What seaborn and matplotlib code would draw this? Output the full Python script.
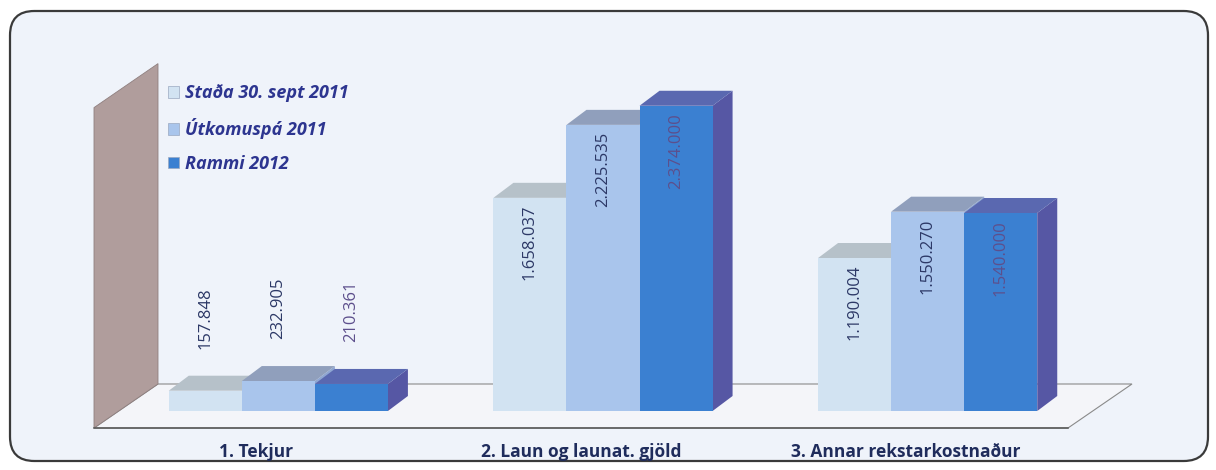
import matplotlib
matplotlib.use("Agg")
import numpy as np
import pandas as pd
import seaborn as sns
import matplotlib.pyplot as plt
from matplotlib.transforms import ScaledTranslation, IdentityTransform
from matplotlib.patches import Polygon, FancyBboxPatch, Rectangle

# ---------------- data ----------------
categories = ["1. Tekjur", "2. Laun og launat. gjöld", "3. Annar rekstarkostnaður"]
series_names = ["Staða 30. sept 2011", "Útkomuspá 2011", "Rammi 2012"]
stada = [157848, 1658037, 1190004]
utkomuspa = [232905, 2225535, 1550270]
rammi = [210361, 2374000, 1540000]

front_colors = ["#d2e3f2", "#a9c5ec", "#3b80d1"]
top_colors = ["#b6c1c9", "#909fbc", "#5a68b0"]
side_colors = ["#b9cadb", "#8fa6d2", "#5657a4"]

df = pd.DataFrame({
    "cat": categories * 3,
    "series": sum([[s] * 3 for s in series_names], []),
    "value": stada + utkomuspa + rammi,
})

sns.set_style("white")
plt.rcParams["font.family"] = ["Open Sans", "DejaVu Sans"]

W, H, DPI = 1216, 470, 100
fig = plt.figure(figsize=(W / DPI, H / DPI), dpi=DPI)
fig.patch.set_facecolor("white")

# outer rounded frame
frame = FancyBboxPatch((10 / W, 9 / H), 1198 / W, 450 / H,
                       boxstyle="round,pad=0,rounding_size=0.02",
                       transform=fig.transFigure, facecolor="#eff3fa",
                       edgecolor="#3a3a3a", linewidth=1.6, zorder=-5,
                       mutation_aspect=W / H)
fig.patches.append(frame)

ax = fig.add_axes([94 / W, (H - 428) / H, 974 / W, 360 / H])
ax.set_facecolor("none")
ax.set_zorder(2)

sns.barplot(data=df, x="cat", y="value", hue="series", order=categories,
            hue_order=series_names, palette=front_colors, width=0.675,
            saturation=1, linewidth=0, ax=ax, legend=False, zorder=3)

ax.set_xlim(-0.5, 2.5)
ax.set_ylim(0, 2.8e6)
for s in ["top", "right", "left"]:
    ax.spines[s].set_visible(False)
ax.spines["bottom"].set_color("#555555")
ax.spines["bottom"].set_linewidth(1.1)
ax.set_yticks([])
ax.set_xlabel("")
ax.set_ylabel("")
ax.set_xticks([0, 1, 2])
ax.set_xticklabels(categories, fontsize=12.5, fontweight="bold", color="#1f2c5c")
ax.tick_params(axis="x", which="major", length=0, pad=11)
ax.set_xticks([-0.5, 0.5, 1.5, 2.5], minor=True)
ax.tick_params(axis="x", which="minor", length=8, color="#555555", direction="out")

# floor and left wall (decoration)
floor_d = np.array([64, 44])
a0 = ax.transAxes.transform((0, 0))
a1 = ax.transAxes.transform((1, 0))
floor = Polygon([a0, a1, a1 + floor_d, a0 + floor_d], closed=True,
                transform=IdentityTransform(), facecolor="#f4f5f9",
                edgecolor="#8a8a8a", linewidth=0.8, zorder=1, clip_on=False)
ax.add_patch(floor)
wt = ax.transAxes.transform((0, 0.89))
wall = Polygon([a0, wt, wt + floor_d, a0 + floor_d], closed=True,
               transform=IdentityTransform(), facecolor="#b09d9c",
               edgecolor="#8f7f7f", linewidth=0.6, zorder=1, clip_on=False)
ax.add_patch(wall)

# bars set back into the depth, with top and side faces
off = ScaledTranslation(22 / DPI, 17 / DPI, fig.dpi_scale_trans)
bar_tr = ax.transData + off
depth = np.array([20, 15])

values_by_series = [stada, utkomuspa, rammi]
label_colors = ["#2c3866", "#2c3866", "#5d4f8c"]
for si, cont in enumerate(ax.containers):
    for bi, bar in enumerate(cont):
        bar.set_transform(bar_tr)
        x, w, h = bar.get_x(), bar.get_width(), bar.get_height()
        p_tl = bar_tr.transform((x, h))
        p_tr = bar_tr.transform((x + w, h))
        p_br = bar_tr.transform((x + w, 0))
        side = Polygon([p_br, p_tr, p_tr + depth, p_br + depth], closed=True,
                       transform=IdentityTransform(), facecolor=side_colors[si],
                       edgecolor="none", zorder=2, clip_on=False)
        top = Polygon([p_tl, p_tr, p_tr + depth, p_tl + depth], closed=True,
                      transform=IdentityTransform(), facecolor=top_colors[si],
                      edgecolor="none", zorder=2, clip_on=False)
        ax.add_patch(side)
        ax.add_patch(top)
        v = values_by_series[si][bi]
        txt = f"{v:,}".replace(",", ".")
        if h > 6e5:
            t_off = ScaledTranslation(0, -7 / DPI, fig.dpi_scale_trans)
            va = "top"
        else:
            t_off = ScaledTranslation(0, 42 / DPI, fig.dpi_scale_trans)
            va = "bottom"
        ax.text(x + w / 2, h, txt, rotation=90, ha="center", va=va,
                fontsize=12, color=label_colors[si],
                transform=bar_tr + t_off, zorder=5)

# legend
handles = [Rectangle((0, 0), 1, 1, facecolor=c, edgecolor="#9aa8c0", linewidth=0.5)
           for c in front_colors]
leg = fig.legend(handles, series_names, loc="upper left",
                 bbox_to_anchor=(152 / W, 1 - 68 / H), frameon=False,
                 prop={"size": 13, "style": "italic", "weight": "bold"},
                 labelspacing=0.88, handlelength=0.6, handleheight=0.6,
                 handletextpad=0.35)
leg.set_zorder(6)
for t in leg.get_texts():
    t.set_color("#2d3590")

fig.savefig("out.png", dpi=DPI)
